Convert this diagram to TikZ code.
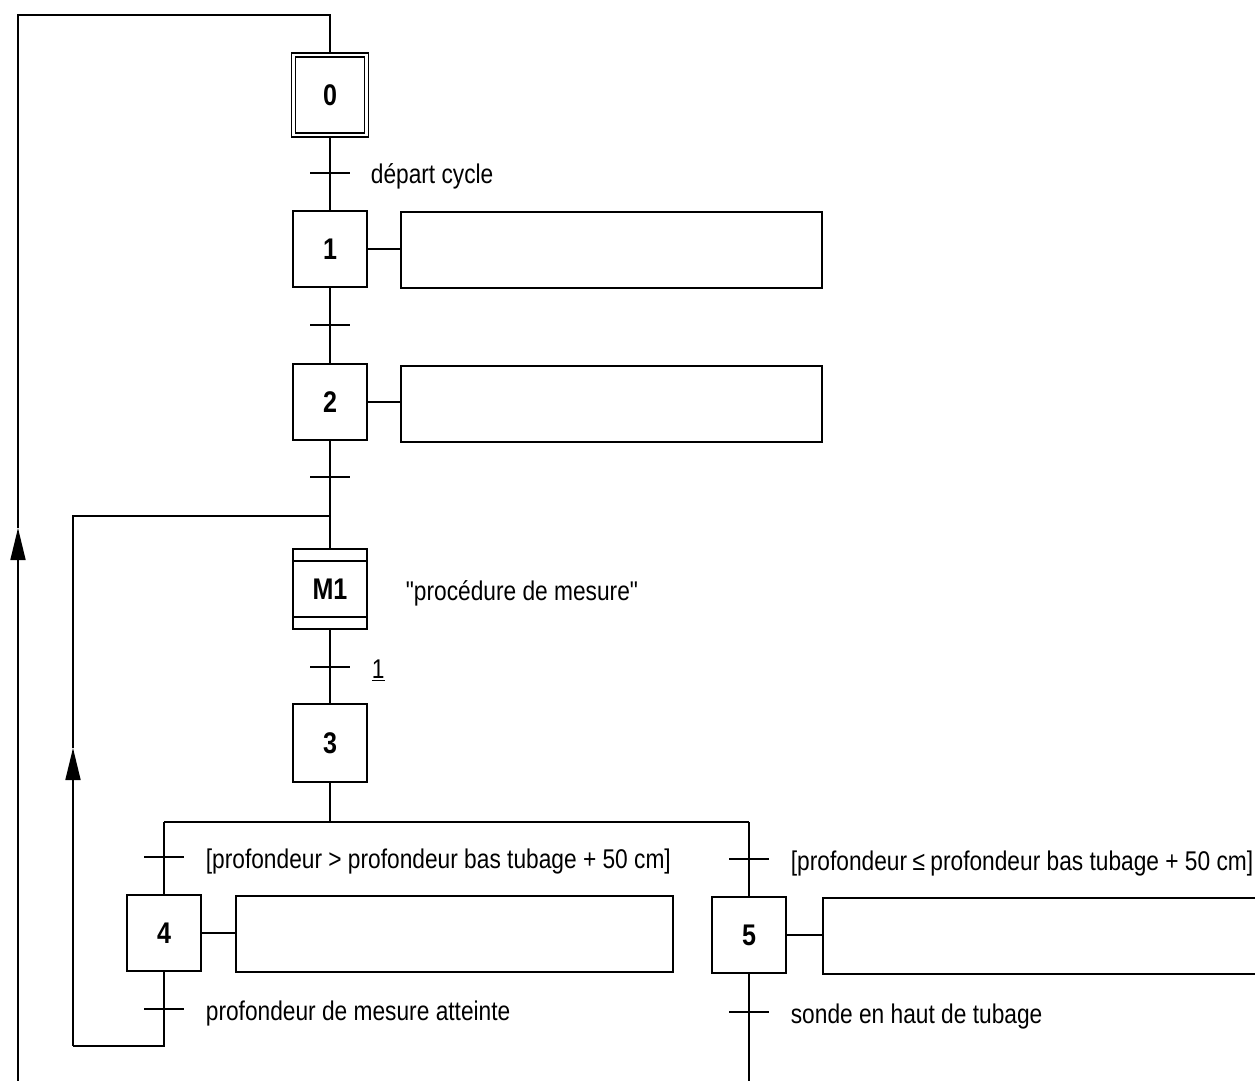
\documentclass[tikz,border=0pt]{standalone}
\usepackage{fontspec}
\setmainfont{Liberation Sans}[FakeStretch=0.84, Ligatures=TeXOff]
\usetikzlibrary{arrows.meta}
\newcommand{\lbl}{\fontsize{15.4pt}{18pt}\selectfont}
\newcommand{\stp}{\fontsize{17pt}{20pt}\selectfont\bfseries}
\begin{document}
\begin{tikzpicture}[x=0.02cm,y=-0.02cm, line width=1pt,
  every node/.style={font=\lbl},
  stepbox/.style={draw, minimum width=1.48cm, minimum height=1.52cm, inner sep=0pt, font=\stp},
  actbox/.style={draw, minimum height=1.53cm, inner sep=0pt},
  trlabel/.style={anchor=base west, inner sep=0pt},
  arr/.style={-{Triangle[length=0.64cm,width=0.3cm]}}]
\useasboundingbox (0,0) rectangle (1255,1080);
\clip (0,0) rectangle (1255,1080);

% steps
\node[stepbox, double, double distance=1.3pt, minimum width=1.46cm, minimum height=1.6cm] (s0) at (330,95) {0};
\node[stepbox] (s1) at (330,249) {1};
\node[actbox, minimum width=8.42cm] (a1) at (611.5,250) {};
\node[stepbox] (s2) at (330,402) {2};
\node[actbox, minimum width=8.42cm] (a2) at (611.5,404) {};
\node[stepbox, minimum height=1.6cm] (m1) at (330,589) {M1};
\node[stepbox, minimum height=1.56cm] (s3) at (330,743) {3};
\node[stepbox] (s4) at (164,933) {4};
\node[actbox, minimum width=8.74cm] (a4) at (454.5,934) {};
\node[stepbox] (s5) at (749,935) {5};
\node[actbox, anchor=west, minimum width=9cm] (a5) at (822,936) {};

% macro-step inner lines
\draw ([yshift=-0.26cm]m1.north west) -- ([yshift=-0.26cm]m1.north east);
\draw ([yshift=0.26cm]m1.south west) -- ([yshift=0.26cm]m1.south east);

% coordinates
\coordinate (t0) at (330,173);
\coordinate (t1) at (330,325);
\coordinate (t2) at (330,477);
\coordinate (tm) at (330,667);
\coordinate (t4a) at (164,857);
\coordinate (t4b) at (164,1009);
\coordinate (t5a) at (749,859);
\coordinate (t5b) at (749,1012);
\coordinate (j1) at (330,516);
\coordinate (d3) at (330,822);
\coordinate (d4) at (164,822);
\coordinate (d5) at (749,822);
\coordinate (lb) at (73,1046);
\coordinate (ar1) at (73,748);
\coordinate (top) at (330,15);
\coordinate (ar2) at (18,528);
\coordinate (bl) at (18,1100);
\coordinate (b5) at (749,1100);

% links
\draw (s0.south) -- (s1.north);
\draw (s1.south) -- (s2.north);
\draw (s2.south) -- (m1.north);
\draw (m1.south) -- (s3.north);
\draw (s3.south) -- (d3);
\draw (d4) -- (d5);
\draw (d4) -- (s4.north);
\draw (d5) -- (s5.north);
\draw (s1.east) -- (s1.east -| a1.west);
\draw (s2.east) -- (s2.east -| a2.west);
\draw (s4.east) -- (s4.east -| a4.west);
\draw (s5.east) -- (s5.east -| a5.west);

% loops
\draw (s4.south) |- (lb);
\draw[arr] (lb) -- (ar1);
\draw (ar1) |- (j1);
\draw (s5.south) -- (b5);
\draw[arr] (bl) -- (ar2);
\draw (ar2) |- (top) -- (s0.north);

% transition ticks
\foreach \t in {t0,t1,t2,tm,t4a,t4b,t5a,t5b}
  \draw ([xshift=-0.4cm]\t) -- ([xshift=0.4cm]\t);

% labels
\node[trlabel] (l0) at (370,183) {départ cycle};
\node[trlabel] (lm) at (405,600) {"procédure de mesure"};
\node[trlabel] (l1) at (371,678) {\underline{1}};
\node[trlabel] (l4a) at (205,868) {[profondeur > profondeur bas tubage + 50 cm]};
\node[trlabel] (l4b) at (205,1020) {profondeur de mesure atteinte};
\node[trlabel] (l5a) at (790,870) {[profondeur\hspace{0.2em}≤\hspace{0.2em}profondeur bas tubage + 50 cm]};
\node[trlabel] (l5b) at (790,1023) {sonde en haut de tubage};
\end{tikzpicture}
\end{document}
